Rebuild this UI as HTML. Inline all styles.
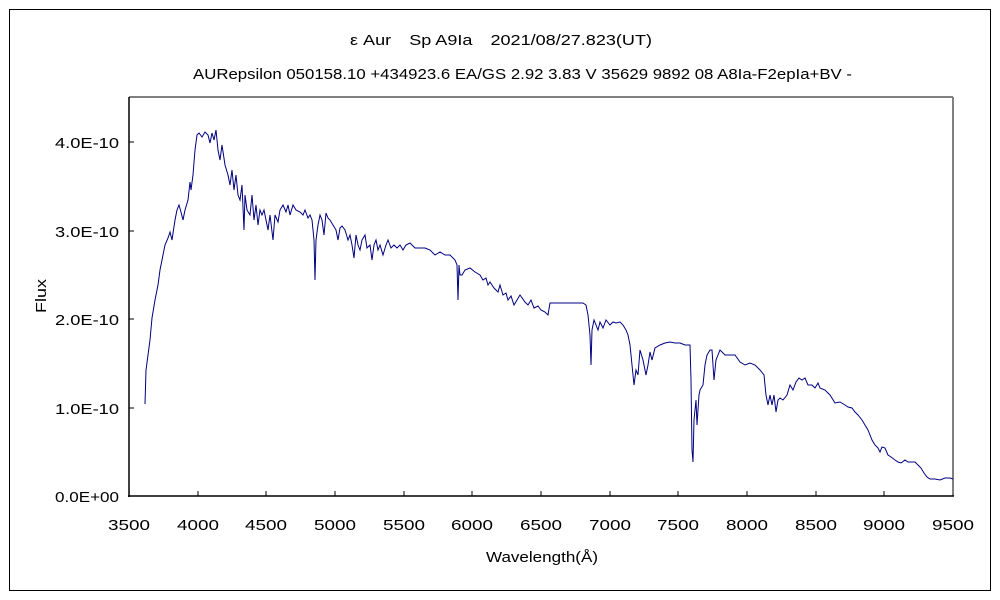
<!DOCTYPE html>
<html><head><meta charset="utf-8"><style>
body{margin:0;background:#fff;}
svg{display:block;font-family:"Liberation Sans","Noto Sans CJK JP",sans-serif;}
</style></head><body>
<svg width="1000" height="600" viewBox="0 0 1000 600">
<rect x="0" y="0" width="1000" height="600" fill="#fff"/>
<rect x="9.5" y="9.5" width="981" height="581" fill="none" stroke="#000" stroke-width="1"/>
<text x="350" y="45" font-size="15" textLength="302" lengthAdjust="spacingAndGlyphs">ε Aur　Sp A9Ia　2021/08/27.823(UT)</text>
<text x="193" y="79" font-size="15" textLength="659" lengthAdjust="spacingAndGlyphs">AURepsilon 050158.10 +434923.6 EA/GS 2.92 3.83 V 35629 9892 08 A8Ia-F2epIa+BV -</text>
<line x1="129" y1="97" x2="953" y2="97" stroke="#808080" stroke-width="2"/>
<line x1="953" y1="97" x2="953" y2="496" stroke="#808080" stroke-width="2"/>
<line x1="129" y1="97" x2="129" y2="497" stroke="#000" stroke-width="1.5"/>
<line x1="128" y1="496" x2="954" y2="496" stroke="#000" stroke-width="1.5"/>
<g stroke="#000" stroke-width="1">
<line x1="129" y1="408" x2="134" y2="408"/><line x1="129" y1="319" x2="134" y2="319"/><line x1="129" y1="231" x2="134" y2="231"/><line x1="129" y1="142" x2="134" y2="142"/>
<line x1="198" y1="496" x2="198" y2="491"/><line x1="266" y1="496" x2="266" y2="491"/><line x1="335" y1="496" x2="335" y2="491"/><line x1="404" y1="496" x2="404" y2="491"/><line x1="472" y1="496" x2="472" y2="491"/><line x1="541" y1="496" x2="541" y2="491"/><line x1="610" y1="496" x2="610" y2="491"/><line x1="678" y1="496" x2="678" y2="491"/><line x1="747" y1="496" x2="747" y2="491"/><line x1="816" y1="496" x2="816" y2="491"/><line x1="884" y1="496" x2="884" y2="491"/>
</g>
<g font-size="15">
<text x="55" y="502" textLength="64" lengthAdjust="spacingAndGlyphs">0.0E+00</text>
<text x="55" y="414" textLength="64" lengthAdjust="spacingAndGlyphs">1.0E-10</text>
<text x="55" y="325" textLength="64" lengthAdjust="spacingAndGlyphs">2.0E-10</text>
<text x="55" y="237" textLength="64" lengthAdjust="spacingAndGlyphs">3.0E-10</text>
<text x="55" y="148" textLength="64" lengthAdjust="spacingAndGlyphs">4.0E-10</text>
</g>
<g font-size="15">
<text x="108" y="530" textLength="42" lengthAdjust="spacingAndGlyphs">3500</text>
<text x="177" y="530" textLength="42" lengthAdjust="spacingAndGlyphs">4000</text>
<text x="245" y="530" textLength="42" lengthAdjust="spacingAndGlyphs">4500</text>
<text x="314" y="530" textLength="42" lengthAdjust="spacingAndGlyphs">5000</text>
<text x="383" y="530" textLength="42" lengthAdjust="spacingAndGlyphs">5500</text>
<text x="451" y="530" textLength="42" lengthAdjust="spacingAndGlyphs">6000</text>
<text x="520" y="530" textLength="42" lengthAdjust="spacingAndGlyphs">6500</text>
<text x="589" y="530" textLength="42" lengthAdjust="spacingAndGlyphs">7000</text>
<text x="657" y="530" textLength="42" lengthAdjust="spacingAndGlyphs">7500</text>
<text x="726" y="530" textLength="42" lengthAdjust="spacingAndGlyphs">8000</text>
<text x="795" y="530" textLength="42" lengthAdjust="spacingAndGlyphs">8500</text>
<text x="863" y="530" textLength="42" lengthAdjust="spacingAndGlyphs">9000</text>
<text x="932" y="530" textLength="42" lengthAdjust="spacingAndGlyphs">9500</text>
<text x="486" y="562" textLength="112" lengthAdjust="spacingAndGlyphs">Wavelength(Å)</text>
<text x="0" y="0" transform="translate(46,313) rotate(-90)" textLength="34" lengthAdjust="spacingAndGlyphs">Flux</text>
</g>
<polyline fill="none" stroke="#000080" stroke-width="1" points="145,404 146,370 148,355 150,340 152,318 155,300 158,285 160,270 163,255 165,245 168,238 170,232 172,240 175,220 177,210 179,205 181,212 183,220 185,210 188,200 190,182 191,190 193,175 195,150 197,135 199,133 202,137 205,132 208,135 210,143 212,133 214,140 216,130 218,150 220,160 222,145 225,165 228,175 230,185 232,170 234,190 236,175 238,195 240,200 242,185 244,230 245,195 247,210 250,215 252,195 254,220 256,205 258,225 260,210 262,215 264,210 266,220 268,230 270,215 273,240 275,215 278,222 280,210 283,205 286,212 288,205 290,215 293,205 296,210 300,212 303,215 305,210 308,218 310,215 312,220 314,240 315,280 316,240 318,225 320,215 322,220 324,235 326,213 328,218 330,220 333,225 336,230 338,240 340,228 342,226 345,230 348,240 350,235 352,245 354,258 356,235 358,245 360,250 362,240 365,235 367,248 370,245 372,260 374,245 376,240 378,250 380,245 383,255 386,245 388,240 391,248 394,245 397,248 400,245 403,250 406,245 410,243 415,248 420,248 425,248 430,250 435,255 440,252 445,255 450,255 455,260 457,265 458,300 459,265 460,275 462,275 465,270 470,268 475,272 480,275 483,280 486,278 488,285 490,282 494,288 498,292 500,285 503,295 506,293 508,300 511,296 514,305 517,300 520,295 525,302 528,305 531,300 534,308 538,306 541,310 545,312 548,315 550,303 555,303 565,303 575,303 583,303 586,305 588,315 590,335 591,365 592,330 594,320 596,325 598,330 600,322 603,328 606,320 610,325 613,322 616,323 620,322 623,325 626,330 628,335 630,345 632,365 634,385 636,370 638,375 640,350 643,360 646,375 648,365 650,352 652,360 655,348 660,345 665,343 670,342 675,343 680,343 685,345 690,345 691,380 692,450 693,462 694,420 696,400 697,425 699,395 700,390 703,385 705,365 707,355 710,350 712,350 714,380 716,360 720,350 725,355 730,355 735,355 740,362 745,365 750,363 755,365 760,370 764,375 766,395 768,405 770,395 772,405 774,395 776,412 778,400 780,398 783,400 787,395 790,385 793,390 796,382 799,378 802,380 805,378 808,385 812,385 815,388 818,383 820,388 825,390 830,395 835,403 840,402 845,405 848,407 852,408 855,412 858,415 862,420 865,425 868,430 872,440 875,445 878,448 880,452 882,447 885,448 888,455 891,457 895,460 898,462 901,463 905,460 908,462 912,462 915,462 918,465 921,468 924,473 927,477 930,479 935,479 940,480 945,478 950,478 953,479"/>
</svg>
</body></html>
